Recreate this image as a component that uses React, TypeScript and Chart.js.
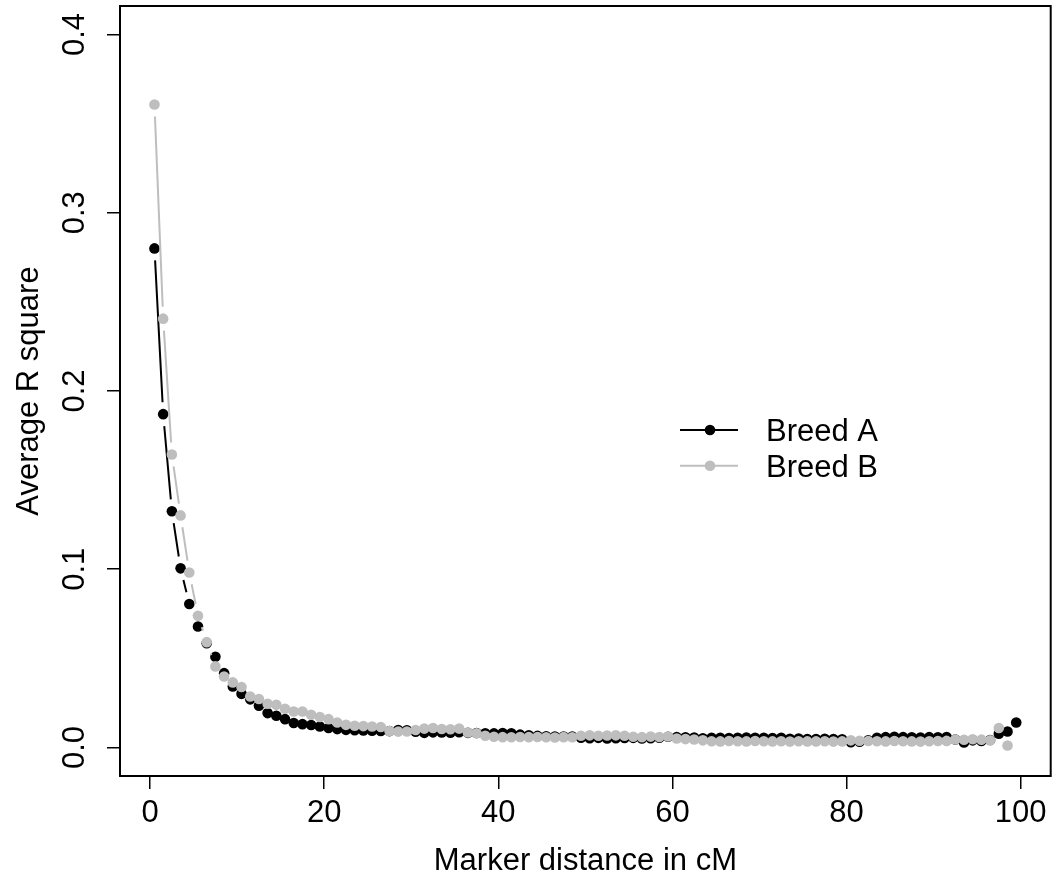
import React, { useEffect, useRef } from "react";
import { Chart, registerables } from "chart.js";

Chart.register(...registerables);

const DISTANCE_CM = [
  0.5, 1.5, 2.5, 3.5, 4.5, 5.5, 6.5, 7.5, 8.5, 9.5,
  10.5, 11.5, 12.5, 13.5, 14.5, 15.5, 16.5, 17.5, 18.5, 19.5,
  20.5, 21.5, 22.5, 23.5, 24.5, 25.5, 26.5, 27.5, 28.5, 29.5,
  30.5, 31.5, 32.5, 33.5, 34.5, 35.5, 36.5, 37.5, 38.5, 39.5,
  40.5, 41.5, 42.5, 43.5, 44.5, 45.5, 46.5, 47.5, 48.5, 49.5,
  50.5, 51.5, 52.5, 53.5, 54.5, 55.5, 56.5, 57.5, 58.5, 59.5,
  60.5, 61.5, 62.5, 63.5, 64.5, 65.5, 66.5, 67.5, 68.5, 69.5,
  70.5, 71.5, 72.5, 73.5, 74.5, 75.5, 76.5, 77.5, 78.5, 79.5,
  80.5, 81.5, 82.5, 83.5, 84.5, 85.5, 86.5, 87.5, 88.5, 89.5,
  90.5, 91.5, 92.5, 93.5, 94.5, 95.5, 96.5, 97.5, 98.5, 99.5,
];

const BREED_A = [
  0.280, 0.187, 0.1325, 0.1005, 0.0805, 0.0679, 0.0585, 0.0509, 0.0417, 0.0342,
  0.0301, 0.0270, 0.0234, 0.0193, 0.0178, 0.0159, 0.0137, 0.0131, 0.0126, 0.0118,
  0.0109, 0.0103, 0.0099, 0.0097, 0.0095, 0.0094, 0.0093, 0.0092, 0.0098, 0.0097,
  0.0088, 0.0082, 0.0085, 0.0084, 0.0083, 0.0086, 0.0082, 0.0081, 0.0080, 0.0079,
  0.0081, 0.0080, 0.0072, 0.0068, 0.0065, 0.0063, 0.0062, 0.0062, 0.0061, 0.0055,
  0.0052, 0.0054, 0.0050, 0.0052, 0.0053, 0.0054, 0.0051, 0.0052, 0.0055, 0.0060,
  0.0058, 0.0057, 0.0056, 0.0052, 0.0054, 0.0055, 0.0053, 0.0055, 0.0056, 0.0054,
  0.0055, 0.0053, 0.0055, 0.0049, 0.0050, 0.0048, 0.0047, 0.0049, 0.0048, 0.0046,
  0.0030, 0.0032, 0.0040, 0.0055, 0.0058, 0.0060, 0.0058, 0.0057, 0.0056, 0.0058,
  0.0057, 0.0059, 0.0045, 0.0028, 0.0040, 0.0036, 0.0042, 0.0077, 0.0090, 0.0140,
];

const BREED_B = [
  0.3607, 0.2406, 0.1644, 0.1302, 0.0982, 0.0739, 0.0591, 0.0455, 0.0398, 0.0365,
  0.0339, 0.0286, 0.0272, 0.0245, 0.0240, 0.0217, 0.0202, 0.0202, 0.0184, 0.0171,
  0.0159, 0.0140, 0.0127, 0.0122, 0.0120, 0.0118, 0.0115, 0.0092, 0.0089, 0.0090,
  0.0098, 0.0106, 0.0109, 0.0104, 0.0102, 0.0106, 0.0084, 0.0080, 0.0066, 0.0060,
  0.0058, 0.0057, 0.0059, 0.0058, 0.0059, 0.0057, 0.0056, 0.0058, 0.0057, 0.0066,
  0.0068, 0.0066, 0.0067, 0.0068, 0.0066, 0.0060, 0.0058, 0.0061, 0.0059, 0.0062,
  0.0050, 0.0047, 0.0045, 0.0040, 0.0035, 0.0034, 0.0036, 0.0035, 0.0034, 0.0036,
  0.0035, 0.0034, 0.0035, 0.0033, 0.0035, 0.0034, 0.0034, 0.0035, 0.0033, 0.0034,
  0.0040, 0.0038, 0.0036, 0.0035, 0.0034, 0.0036, 0.0035, 0.0034, 0.0033, 0.0035,
  0.0036, 0.0037, 0.0045, 0.0043, 0.0046, 0.0044, 0.0040, 0.0109, 0.0011,
];

const X_TICKS = [0, 20, 40, 60, 80, 100];
const Y_TICKS = [0, 0.1, 0.2, 0.3, 0.4];
const SERIES_NAMES = ["Breed A", "Breed B"];
const SERIES_COLORS = ["#000000", "#BEBEBE"];
const X_TITLE = "Marker distance in cM";
const Y_TITLE = "Average R square";

const FONT = '"Liberation Sans", Arial, Helvetica, sans-serif';
const FONT_SIZE = 31;
const POINT_R = 5.3;
const GAP = 12;

const gapLines = {
  id: "gapLines",
  beforeDatasetDraw(chart: any, args: any) {
    const meta = args.meta;
    const ds = chart.data.datasets[args.index];
    const pts = meta.data;
    const ctx = chart.ctx;
    ctx.save();
    ctx.strokeStyle = ds.borderColor;
    ctx.lineWidth = 2;
    ctx.lineCap = "butt";
    ctx.beginPath();
    for (let i = 1; i < pts.length; i++) {
      const a = pts[i - 1];
      const b = pts[i];
      const dx = b.x - a.x;
      const dy = b.y - a.y;
      const L = Math.hypot(dx, dy);
      if (L > 2 * GAP) {
        const ux = dx / L;
        const uy = dy / L;
        ctx.moveTo(a.x + ux * GAP, a.y + uy * GAP);
        ctx.lineTo(b.x - ux * GAP, b.y - uy * GAP);
      }
    }
    ctx.stroke();
    ctx.restore();
  },
};

const boxPlugin = {
  id: "boxPlugin",
  afterDraw(chart: any) {
    const { ctx, chartArea } = chart;
    ctx.save();
    ctx.strokeStyle = "#000";
    ctx.lineWidth = 2;
    ctx.strokeRect(chartArea.left, chartArea.top, chartArea.right - chartArea.left, chartArea.bottom - chartArea.top);
    ctx.restore();
  },
};

const legendPlugin = {
  id: "rLegend",
  afterDraw(chart: any) {
    const ctx = chart.ctx;
    const rows = [430, 465.7];
    ctx.save();
    SERIES_NAMES.forEach((name, i) => {
      const y = rows[i];
      ctx.strokeStyle = SERIES_COLORS[i];
      ctx.lineWidth = 2;
      ctx.beginPath();
      ctx.moveTo(680, y);
      ctx.lineTo(738, y);
      ctx.stroke();
      ctx.fillStyle = SERIES_COLORS[i];
      ctx.beginPath();
      ctx.arc(710, y, POINT_R, 0, Math.PI * 2);
      ctx.fill();
      ctx.fillStyle = "#000";
      ctx.font = `${FONT_SIZE}px ${FONT}`;
      ctx.textAlign = "left";
      ctx.textBaseline = "middle";
      ctx.fillText(name, 766, y + 2.5);
    });
    ctx.restore();
  },
};

export default function App() {
  const ref = useRef<HTMLCanvasElement | null>(null);

  useEffect(() => {
    if (!ref.current) return;
    const mk = (vals: number[], i: number, order: number) => ({
      label: SERIES_NAMES[i],
      data: vals.map((y, k) => ({ x: DISTANCE_CM[k], y })),
      order,
      showLine: false,
      backgroundColor: SERIES_COLORS[i],
      borderColor: SERIES_COLORS[i],
      pointBackgroundColor: SERIES_COLORS[i],
      pointBorderColor: SERIES_COLORS[i],
      pointRadius: POINT_R,
      pointBorderWidth: 0,
      pointHoverRadius: POINT_R,
    });
    const tickFont = { family: FONT, size: FONT_SIZE };
    const chart = new Chart(ref.current, {
      type: "scatter",
      data: {
        datasets: [mk(BREED_A, 0, 1), mk(BREED_B, 1, 0)] as any,
      },
      options: {
        animation: false,
        responsive: false,
        events: [],
        layout: { padding: { top: 6, right: 4, bottom: 0, left: 0 } },
        plugins: { legend: { display: false }, tooltip: { enabled: false } },
        scales: {
          x: {
            type: "linear",
            min: -3.46,
            max: 103.46,
            afterBuildTicks: (s: any) => {
              s.ticks = X_TICKS.map((v) => ({ value: v }));
            },
            afterFit: (s: any) => {
              s.height = 104;
              s.paddingLeft = 0;
              s.paddingRight = 0;
            },
            grid: { display: true, drawOnChartArea: false, drawTicks: true, tickLength: 13, color: "#000", lineWidth: 1.5 },
            border: { display: false },
            ticks: {
              padding: 6,
              color: "#000",
              font: tickFont,
              minRotation: 0,
              maxRotation: 0,
              autoSkip: false,
              callback: (v: any) => String(v),
            },
            title: {
              display: true,
              text: X_TITLE,
              color: "#000",
              font: tickFont,
              padding: { top: 0, bottom: 0 },
            },
          },
          y: {
            type: "linear",
            min: -0.016,
            max: 0.416,
            afterBuildTicks: (s: any) => {
              s.ticks = Y_TICKS.map((v) => ({ value: v }));
            },
            afterFit: (s: any) => {
              s.width = 120;
              s.paddingTop = 0;
              s.paddingBottom = 0;
            },
            grid: { display: true, drawOnChartArea: false, drawTicks: true, tickLength: 13, color: "#000", lineWidth: 1.5 },
            border: { display: false },
            ticks: {
              padding: 10,
              crossAlign: "center",
              minRotation: 90,
              maxRotation: 90,
              color: "#000",
              font: tickFont,
              autoSkip: false,
              callback: (v: any) => Number(v).toFixed(1),
            },
            title: {
              display: true,
              text: Y_TITLE,
              color: "#000",
              font: tickFont,
              padding: { top: 11, bottom: 0 },
            },
          },
        },
      } as any,
      plugins: [gapLines, boxPlugin, legendPlugin],
    });
    return () => chart.destroy();
  }, []);

  return (
    <canvas
      ref={ref}
      width={1056}
      height={880}
      style={{ display: "block", position: "fixed", left: 0, top: 0, background: "#fff" }}
    />
  );
}
